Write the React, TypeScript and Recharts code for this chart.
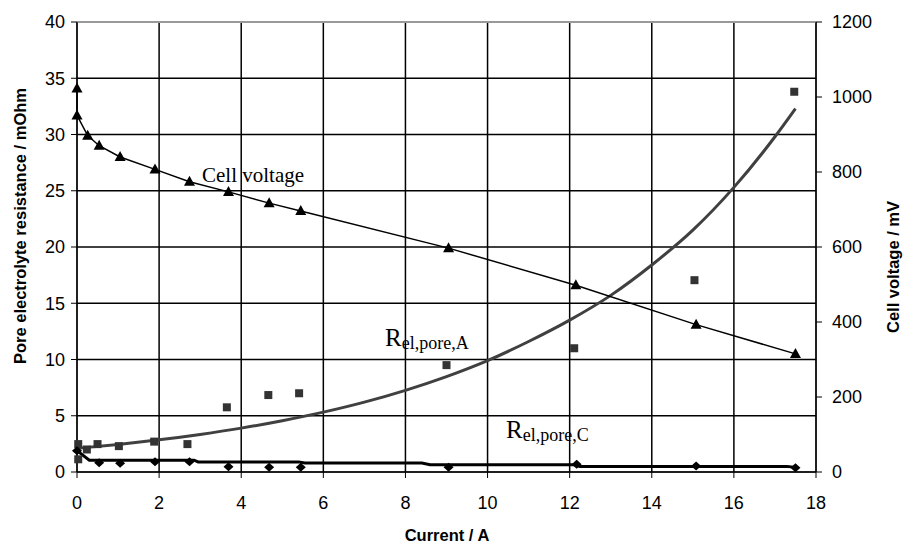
import React from "react";
import {
  ComposedChart,
  Line,
  Scatter,
  XAxis,
  YAxis,
  CartesianGrid,
  ReferenceLine,
} from "recharts";

// axis ticks
const currentTicks = [0, 2, 4, 6, 8, 10, 12, 14, 16, 18];
const resistanceTicks = [0, 5, 10, 15, 20, 25, 30, 35, 40];
const voltageTicks = [0, 200, 400, 600, 800, 1000, 1200];

// cell voltage (triangles, right axis, mV)
const cellCurrent = [0, 0, 0.26, 0.54, 1.05, 1.9, 2.74, 3.69, 4.68, 5.45, 9.05, 12.15, 15.08, 17.5];
const cellVoltage = [1023, 951, 897, 870, 840, 807, 774, 747, 717, 696, 597, 498, 393, 315];

// R el,pore,A (squares, left axis, mOhm)
const poreACurrent = [0.03, 0.24, 0.03, 0.5, 1.02, 1.88, 2.69, 3.65, 4.66, 5.41, 9.0, 12.11, 15.04, 17.47];
const poreA = [2.48, 2.0, 1.13, 2.48, 2.3, 2.7, 2.48, 5.75, 6.84, 7.0, 9.5, 11.0, 17.05, 33.8];

// R el,pore,C (diamonds)
const poreCCurrent = [0, 0.54, 1.05, 1.9, 2.74, 3.69, 4.68, 5.45, 9.05, 12.17, 15.08, 17.5];
const poreC = [1.9, 0.83, 0.77, 0.92, 0.92, 0.47, 0.42, 0.42, 0.42, 0.68, 0.53, 0.38];

// trend curve through the squares
const trendACurrent = [0, 1, 2, 3, 4, 5, 6, 7, 8, 9, 10, 11, 12, 13, 14, 15, 16, 17, 17.5];
const trendA = [2.1, 2.45, 2.86, 3.34, 3.9, 4.56, 5.32, 6.21, 7.26, 8.48, 9.9, 11.6, 13.5, 15.7, 18.4, 21.5, 25.3, 29.8, 32.3];

// stepped trend through the diamonds
const trendCCurrent = [0, 0.3, 2.85, 2.95, 5.4, 5.55, 8.4, 8.6, 12.1, 12.25, 17.3, 17.5];
const trendC = [1.9, 1.05, 1.05, 0.9, 0.9, 0.8, 0.8, 0.65, 0.65, 0.5, 0.5, 0.4];

const zip = (xs: number[], ys: number[]) => xs.map((x, i) => ({ x, y: ys[i] }));

const cellData = zip(cellCurrent, cellVoltage);
const poreAData = zip(poreACurrent, poreA);
const poreCData = zip(poreCCurrent, poreC);
const trendAData = zip(trendACurrent, trendA);
const trendCData = zip(trendCCurrent, trendC);

const tickFont = { fill: "#000", fontSize: 18, fontFamily: "Liberation Sans, Arial, sans-serif" };
const titleFont = "Liberation Sans, Arial, sans-serif";
const serif = "Liberation Serif, Times New Roman, serif";

const Triangle = (props: any) => {
  const { cx, cy } = props;
  if (cx == null || cy == null) return null;
  return <polygon points={`${cx},${cy - 6} ${cx + 5.5},${cy + 4} ${cx - 5.5},${cy + 4}`} fill="#000" />;
};

const Square = (props: any) => {
  const { cx, cy } = props;
  if (cx == null || cy == null) return null;
  return <rect x={cx - 4} y={cy - 4} width={8} height={8} fill="#333" />;
};

const Diamond = (props: any) => {
  const { cx, cy } = props;
  if (cx == null || cy == null) return null;
  return <polygon points={`${cx},${cy - 4.5} ${cx + 5},${cy} ${cx},${cy + 4.5} ${cx - 5},${cy}`} fill="#000" />;
};

export default function App() {
  return (
    <div style={{ position: "relative", width: 903, height: 546 }}>
      <style>{"body{margin:0}"}</style>
      <ComposedChart width={903} height={546} margin={{ top: 22, right: 0, bottom: 0, left: 0 }}>
        <CartesianGrid yAxisId="left" stroke="#000" strokeWidth={1.5} />
        <XAxis
          type="number"
          dataKey="x"
          domain={[0, 18]}
          ticks={currentTicks}
          height={74}
          stroke="#000"
          tickSize={6}
          tickMargin={18}
          tick={tickFont}
        />
        <YAxis
          yAxisId="left"
          type="number"
          domain={[0, 40]}
          ticks={resistanceTicks}
          width={77}
          stroke="#000"
          tickSize={6}
          tickMargin={6}
          tick={tickFont}
        />
        <YAxis
          yAxisId="right"
          orientation="right"
          type="number"
          domain={[0, 1200]}
          ticks={voltageTicks}
          width={87}
          stroke="#000"
          tickSize={6}
          tickMargin={10}
          tick={tickFont}
        />
        <ReferenceLine yAxisId="left" y={40} stroke="#999" strokeWidth={2} />
        <Line
          yAxisId="left"
          data={trendAData}
          dataKey="y"
          type="monotone"
          stroke="#404040"
          strokeWidth={3}
          dot={false}
          isAnimationActive={false}
        />
        <Line
          yAxisId="left"
          data={trendCData}
          dataKey="y"
          type="linear"
          stroke="#000"
          strokeWidth={3}
          dot={false}
          isAnimationActive={false}
        />
        <Line
          yAxisId="right"
          data={cellData}
          dataKey="y"
          type="linear"
          stroke="#000"
          strokeWidth={1.5}
          dot={false}
          isAnimationActive={false}
        />
        <Scatter yAxisId="left" data={poreAData} dataKey="y" shape={Square} isAnimationActive={false} />
        <Scatter yAxisId="left" data={poreCData} dataKey="y" shape={Diamond} isAnimationActive={false} />
        <Scatter yAxisId="right" data={cellData} dataKey="y" shape={Triangle} isAnimationActive={false} />
      </ComposedChart>
      <svg
        width={903}
        height={546}
        style={{ position: "absolute", left: 0, top: 0, pointerEvents: "none" }}
      >
        <text x={202} y={182} fontFamily={serif} fontSize={21} fill="#000">
          Cell voltage
        </text>
        <text x={385} y={346} fontFamily={serif} fill="#000">
          <tspan fontSize={25}>R</tspan>
          <tspan fontSize={18} dy={3}>el,pore,A</tspan>
        </text>
        <text x={506} y={438} fontFamily={serif} fill="#000">
          <tspan fontSize={25}>R</tspan>
          <tspan fontSize={18} dy={3}>el,pore,C</tspan>
        </text>
        <text
          x={447}
          y={541}
          textAnchor="middle"
          fontFamily={titleFont}
          fontWeight="bold"
          fontSize={16.5}
          fill="#000"
        >
          Current / A
        </text>
        <text
          transform="translate(26,226) rotate(-90)"
          textAnchor="middle"
          fontFamily={titleFont}
          fontWeight="bold"
          fontSize={16.5}
          fill="#000"
        >
          Pore electrolyte resistance / mOhm
        </text>
        <text
          transform="translate(899,267) rotate(-90)"
          textAnchor="middle"
          fontFamily={titleFont}
          fontWeight="bold"
          fontSize={16.5}
          fill="#000"
        >
          Cell voltage / mV
        </text>
      </svg>
    </div>
  );
}
